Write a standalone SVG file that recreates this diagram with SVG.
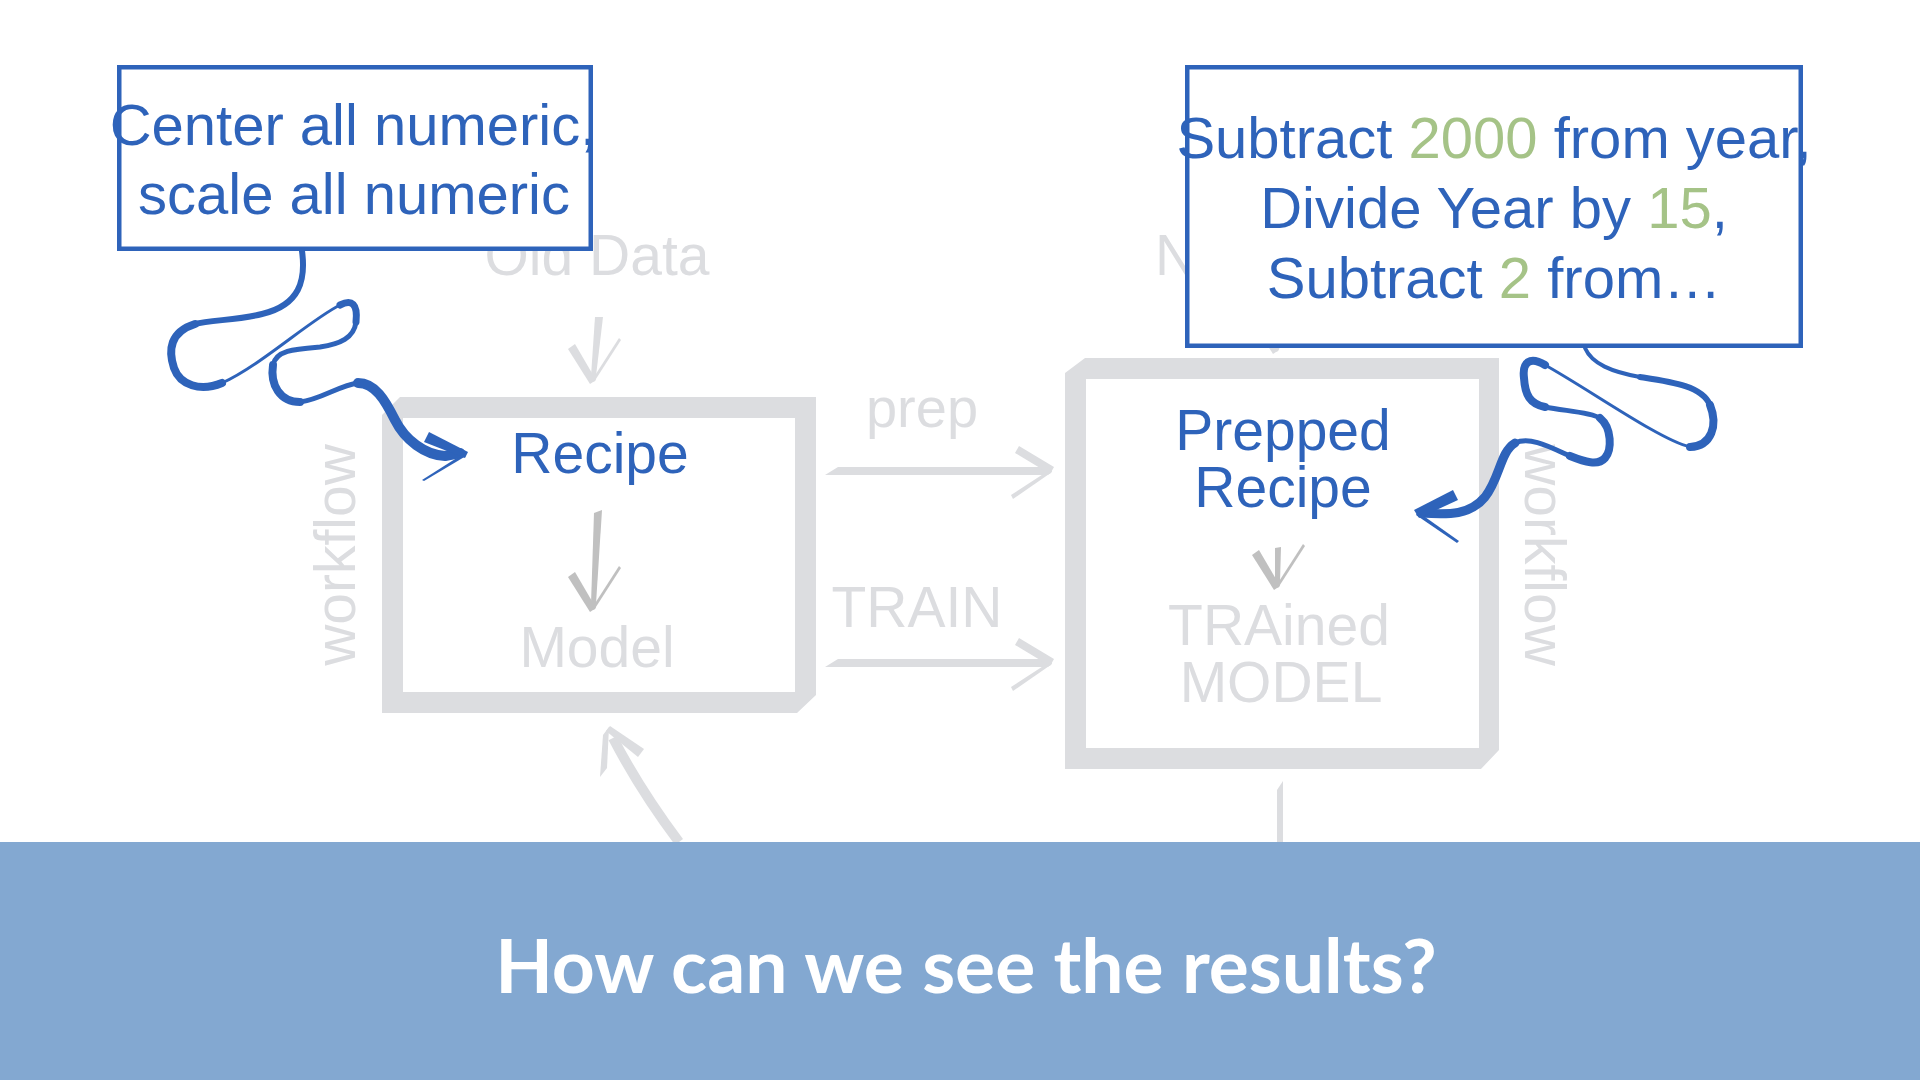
<svg xmlns="http://www.w3.org/2000/svg" width="1920" height="1080" viewBox="0 0 1920 1080">
  <style>
    text { font-family: "Liberation Sans", Arial, Helvetica, sans-serif; }
    .lbl { font-size: 57px; text-anchor: middle; }
    .note { font-size: 58px; text-anchor: middle; }
    .gray { fill: #dcdde0; }
    .dark { fill: #c0c0c0; }
    .blue { fill: #2e63ba; }
    .green { fill: #a5c387; }
    .frame { fill: #dcdde0; fill-rule: evenodd; }
    .callout { fill: #ffffff; stroke: #2e63ba; stroke-width: 4.5; }
    .ribbon { fill: none; stroke: #2e63ba; stroke-linecap: round; stroke-linejoin: round; }
    .banner-text { font-family: Lato, "Open Sans", sans-serif; font-weight: 700; font-size: 75px; fill: #ffffff; text-anchor: middle; }
  </style>
  <defs>
    <!-- hand-drawn arrow barbs, tip at origin, pointing down -->
    <g id="barbs">
      <path d="M-18,-38 L-25,-33 L-3,2 L3,-2 Z"/>
      <path d="M26,-44 L28,-42 L1,0 L-1,-2 Z"/>
    </g>
    <!-- hand-drawn arrow pointing right, tip at origin -->
    <g id="hArrow">
      <path d="M-227,5 L-214,-3 L-4,-3 L0,1 L-4,5 Z"/>
      <path d="M-33,-24 L-37,-17 L-2,4 L2,-3 Z"/>
      <path d="M-41,25 L-39,29 L0,2 L-1,-1 Z"/>
    </g>
  </defs>

  <rect width="1920" height="1080" fill="#ffffff"/>

  <!-- workflow frame: recipe and model -->
  <g id="recipe-box">
    <path class="frame" d="M400,397 L816,397 L816,695 L797,713 L382,713 L382,415 Z M403,418 L403,692 L795,692 L795,418 Z"/>
    <text class="lbl blue" x="600" y="473">Recipe</text>
    <text class="lbl gray" x="597" y="667">Model</text>
    <text class="lbl gray" transform="translate(355,555) rotate(-90)">workflow</text>
  </g>

  <!-- prepped recipe and trained model -->
  <g id="prepped-box">
    <path class="frame" d="M1085,358 L1499,358 L1499,750 L1481,769 L1065,769 L1065,373 Z M1086,379 L1086,748 L1479,748 L1479,379 Z"/>
    <text class="lbl blue" x="1283" y="450">Prepped</text>
    <text class="lbl blue" x="1283" y="507">Recipe</text>
    <text class="lbl gray" x="1279" y="645">TRAined</text>
    <text class="lbl gray" x="1281" y="702">MODEL</text>
    <text class="lbl gray" transform="translate(1525,555) rotate(90)">workflow</text>
  </g>

  <g id="old-data">
    <text class="lbl gray" x="597" y="275">Old Data</text>
  </g>
  <g id="new-data">
    <text class="gray" x="1155" y="275" font-size="57">N</text>
  </g>

  <g id="connectors">
    <!-- old data into recipe -->
    <g class="gray" transform="translate(593,382)">
      <path d="M2,-65 L10,-65 L3,-6 L0,0 L-2,-6 Z"/>
      <use href="#barbs"/>
    </g>
    <!-- new data into prepped recipe -->
    <g class="gray" transform="translate(1276,352)">
      <path d="M2,-65 L10,-65 L3,-6 L0,0 L-2,-6 Z"/>
      <use href="#barbs"/>
    </g>
    <!-- recipe to model -->
    <g class="dark" transform="translate(593,610)">
      <path d="M1,-97 L9,-100 L3,-6 L0,0 L-2,-6 Z"/>
      <use href="#barbs"/>
    </g>
    <!-- prepped recipe to trained model -->
    <g class="dark" transform="translate(1277,588)">
      <path d="M-2,-40 L4,-41 L3,-6 L0,0 L-2,-6 Z"/>
      <use href="#barbs"/>
    </g>
    <!-- prep and TRAIN -->
    <text class="gray" x="922" y="427" font-size="56" text-anchor="middle">prep</text>
    <use class="gray" href="#hArrow" transform="translate(1052,470)"/>
    <text class="gray" x="917" y="627" font-size="57" text-anchor="middle">TRAIN</text>
    <use class="gray" href="#hArrow" transform="translate(1052,662)"/>
    <!-- lower return arrow and stem -->
    <g class="gray">
      <path d="M679,842 Q640,790 613,738" fill="none" stroke="#dcdde0" stroke-width="10"/>
      <path d="M603,735 L609,727 L607,768 L600,777 Z"/>
      <path d="M606,731 L610,726 L644,749 L638,757 Z"/>
      <path d="M1277,790 L1283,781 L1283,842 L1277,842 Z"/>
    </g>
  </g>

  <!-- callout: left box -->
  <g id="callout-left">
    <rect class="callout" x="119.25" y="67.25" width="471.5" height="181.5"/>
    <text class="note blue" x="353" y="145">Center all numeric,</text>
    <text class="note blue" x="354" y="214">scale all numeric</text>
    <g class="ribbon">
      <path stroke-width="6" d="M302,251 C306,280 300,305 262,314 C240,320 210,320 195,324"/>
      <path stroke-width="8" d="M195,324 C170,332 168,350 174,368 C180,385 200,392 222,383"/>
      <path stroke-width="3" d="M222,383 C260,366 310,320 340,305"/>
      <path stroke-width="7" d="M340,305 C352,299 358,304 356,322"/>
      <path stroke-width="5" d="M356,322 C354,338 340,344 320,347 C295,349 276,350 273,365"/>
      <path stroke-width="8" d="M273,365 C270,385 280,402 300,402"/>
      <path stroke-width="5" d="M300,402 C320,400 340,385 358,383"/>
      <path stroke-width="10" d="M358,383 C375,383 385,400 395,420 C405,440 425,455 445,456 L460,453"/>
    </g>
    <g class="blue">
      <path d="M424,442 L429,432 L468,452 L465,458 Z"/>
      <path d="M422,480 L424,481 L466,456 L463,454 Z"/>
    </g>
  </g>

  <!-- callout: right box -->
  <g id="callout-right">
    <rect class="callout" x="1187.25" y="67.25" width="613.5" height="278.5"/>
    <text class="note" x="1494" y="158"><tspan class="blue">Subtract </tspan><tspan class="green">2000</tspan><tspan class="blue"> from year,</tspan></text>
    <text class="note" x="1494" y="228"><tspan class="blue">Divide Year by </tspan><tspan class="green">15</tspan><tspan class="blue">,</tspan></text>
    <text class="note" x="1494" y="298"><tspan class="blue">Subtract </tspan><tspan class="green">2</tspan><tspan class="blue"> from…</tspan></text>
    <g class="ribbon">
      <path stroke-width="4" d="M1585,348 C1592,364 1612,372 1640,377"/>
      <path stroke-width="6" d="M1640,377 C1672,382 1702,386 1710,405"/>
      <path stroke-width="8" d="M1710,405 C1718,425 1712,446 1690,447"/>
      <path stroke-width="3" d="M1690,447 C1660,440 1590,390 1545,365"/>
      <path stroke-width="8" d="M1545,365 C1530,356 1522,362 1524,378 C1525,395 1530,404 1545,407"/>
      <path stroke-width="5" d="M1545,407 C1565,411 1590,412 1600,418"/>
      <path stroke-width="8" d="M1600,418 C1612,428 1612,450 1605,458 C1598,466 1585,462 1570,456"/>
      <path stroke-width="5" d="M1570,456 C1550,447 1530,436 1515,443"/>
      <path stroke-width="9" d="M1515,443 C1500,452 1500,478 1485,497 C1470,515 1450,515 1421,513"/>
    </g>
    <g class="blue">
      <path d="M1458,500 L1453,490 L1414,510 L1419,518 Z"/>
      <path d="M1457,543 L1459,541 L1418,512 L1416,515 Z"/>
    </g>
  </g>

  <!-- caption banner -->
  <g id="banner">
    <rect x="0" y="842" width="1920" height="238" fill="#83a8d1"/>
    <text class="banner-text" x="966" y="993">How can we see the results?</text>
  </g>
</svg>
